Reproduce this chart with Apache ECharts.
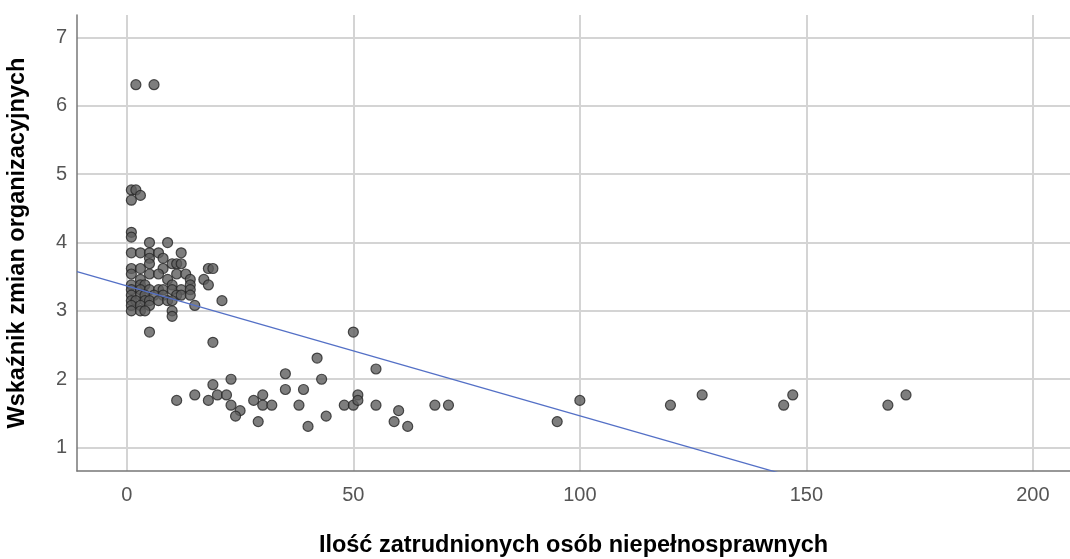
<!DOCTYPE html>
<html>
<head>
<meta charset="utf-8">
<script src="https://cdn.jsdelivr.net/npm/echarts@6/dist/echarts.min.js"></script>
<style>
  html, body { margin: 0; padding: 0; background: #fff; }
  #chart { width: 1070px; height: 559px; }
</style>
</head>
<body>
<div id="chart"></div>
<script>
// Number of employed disabled persons per organisation
const employees = [
  2, 6,
  1, 2, 3, 1,
  1, 1,
  5, 9,
  1, 3, 5, 7, 12,
  5, 8,
  5, 10, 11, 12,
  1, 3, 8, 18, 19,
  1, 5, 7, 11, 13,
  3, 9, 14, 17,
  1, 3, 4, 10, 14, 18,
  1, 3, 5, 7, 8, 10, 12, 14,
  1, 3, 4, 6, 8, 11, 12, 14,
  1, 2, 4, 5, 7, 9, 10, 21,
  1, 3, 5, 15,
  1, 3, 4, 10,
  10, 5, 19,
  50, 42, 55, 19, 23, 35, 43, 35, 39,
  11, 15, 18, 20, 22, 23, 25, 24, 28, 30, 30, 32, 29, 38, 40, 44,
  48, 50, 51, 51, 55, 59, 60, 62, 68, 71,
  95, 100, 120, 127, 145, 147, 168, 172
];

// Organisational change index for the same organisations
const changeIndex = [
  6.31, 6.31,
  4.77, 4.77, 4.69, 4.62,
  4.15, 4.08,
  4.00, 4.00,
  3.85, 3.85, 3.85, 3.85, 3.85,
  3.77, 3.77,
  3.69, 3.69, 3.69, 3.69,
  3.62, 3.62, 3.62, 3.62, 3.62,
  3.54, 3.54, 3.54, 3.54, 3.54,
  3.46, 3.46, 3.46, 3.46,
  3.38, 3.38, 3.38, 3.38, 3.38, 3.38,
  3.31, 3.31, 3.31, 3.31, 3.31, 3.31, 3.31, 3.31,
  3.23, 3.23, 3.23, 3.23, 3.23, 3.23, 3.23, 3.23,
  3.15, 3.15, 3.15, 3.15, 3.15, 3.15, 3.15, 3.15,
  3.08, 3.08, 3.08, 3.08,
  3.00, 3.00, 3.00, 3.00,
  2.92, 2.69, 2.54,
  2.69, 2.31, 2.15, 1.92, 2.00, 2.08, 2.00, 1.85, 1.85,
  1.69, 1.77, 1.69, 1.77, 1.77, 1.62, 1.54, 1.46, 1.69, 1.77, 1.62, 1.62, 1.38, 1.62, 1.31, 1.46,
  1.62, 1.62, 1.77, 1.69, 1.62, 1.38, 1.54, 1.31, 1.62, 1.62,
  1.38, 1.69, 1.62, 1.77, 1.62, 1.77, 1.62, 1.77
];

// Axis tick values
const xTicks = [0, 50, 100, 150, 200];
const yTicks = [1, 2, 3, 4, 5, 6, 7];

// Linear fit line: y = intercept + slope * x
const fitIntercept = 3.364;
const fitSlope = -0.0190;

const xMin = -11, xMax = 208.2;
const yMin = 0.657, yMax = 7.33;

const points = employees.map((x, i) => [x, changeIndex[i]]);
const fitLine = [xMin, xMax].map(x => [x, fitIntercept + fitSlope * x]);

const chart = echarts.init(document.getElementById('chart'), null, { renderer: 'canvas' });

const tickLabelStyle = {
  color: '#555',
  fontFamily: 'Liberation Sans, Arial, sans-serif',
  fontSize: 20
};

chart.setOption({
  animation: false,
  backgroundColor: '#fff',
  grid: {
    left: 77, right: 0, top: 15, bottom: 88,
    containLabel: false,
    outerBoundsMode: 'none'
  },
  xAxis: {
    type: 'value',
    min: xMin,
    max: xMax,
    name: 'Ilość zatrudnionych osób niepełnosprawnych',
    nameLocation: 'middle',
    nameGap: 63,
    nameTextStyle: {
      color: '#000',
      fontFamily: 'Liberation Sans, Arial, sans-serif',
      fontWeight: 'bold',
      fontSize: 23.5
    },
    axisLine: { show: true, onZero: false, lineStyle: { color: '#777', width: 1.5 } },
    axisTick: { show: false, customValues: xTicks },
    axisLabel: Object.assign({ customValues: xTicks, margin: 14 }, tickLabelStyle),
    splitLine: { show: true, lineStyle: { color: '#d4d4d4', width: 2 } }
  },
  yAxis: {
    type: 'value',
    min: yMin,
    max: yMax,
    name: 'Wskaźnik zmian organizacyjnych',
    nameLocation: 'middle',
    nameGap: 47,
    nameTextStyle: {
      color: '#000',
      fontFamily: 'Liberation Sans, Arial, sans-serif',
      fontWeight: 'bold',
      fontSize: 23.5
    },
    axisLine: { show: true, onZero: false, lineStyle: { color: '#777', width: 1.5 } },
    axisTick: { show: false, customValues: yTicks },
    axisLabel: Object.assign({ customValues: yTicks, margin: 10 }, tickLabelStyle),
    splitLine: { show: true, lineStyle: { color: '#d4d4d4', width: 2 } }
  },
  series: [
    {
      type: 'scatter',
      data: points,
      symbol: 'circle',
      symbolSize: 10,
      itemStyle: { color: '#5e5e5e', borderColor: '#262626', borderWidth: 1.2 },
      z: 3
    },
    {
      type: 'line',
      data: fitLine,
      symbol: 'none',
      clip: true,
      lineStyle: { color: '#5470c6', width: 1.3 },
      z: 4
    }
  ]
});
</script>
</body>
</html>
